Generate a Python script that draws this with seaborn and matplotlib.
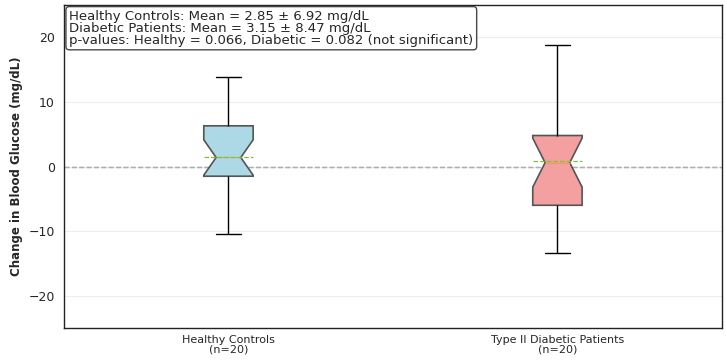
import matplotlib
matplotlib.use("Agg")
import matplotlib.pyplot as plt
import seaborn as sns
import pandas as pd

categories = ["Healthy Controls\n(n=20)", "Type II Diabetic Patients\n(n=20)"]
healthy_change = [-10.5, -8.5, -6.0, -3.5, -1.5, -1.5, -1.0, 0.0, 0.8, 1.4,
                  1.4, 2.0, 3.0, 4.5, 6.3, 6.3, 7.0, 7.4, 8.5, 13.8]
diabetic_change = [-13.4, -9.5, -8.0, -7.0, -6.0, -6.0, -3.5, -1.5, 0.0, 0.6,
                   0.6, 2.2, 3.3, 4.2, 4.8, 4.8, 8.0, 11.0, 14.0, 18.8]
box_colors = ["#ADD8E6", "#F4A0A0"]
yticks = [-20, -10, 0, 10, 20]
stats_text = ("Healthy Controls: Mean = 2.85 ± 6.92 mg/dL\n"
              "Diabetic Patients: Mean = 3.15 ± 8.47 mg/dL\n"
              "p-values: Healthy = 0.066, Diabetic = 0.082 (not significant)")

df = pd.DataFrame({
    "group": [categories[0]] * len(healthy_change) + [categories[1]] * len(diabetic_change),
    "change": healthy_change + diabetic_change,
})

sns.set_style("white")
plt.rcParams["font.family"] = ["DejaVu Sans"]

fig = plt.figure(figsize=(7.27, 3.62), dpi=100)
ax = fig.add_axes([0.088, 0.094, 0.905, 0.892])

sns.boxplot(data=df, x="group", y="change", hue="group", palette=box_colors,
            order=categories, hue_order=categories, legend=False, saturation=1,
            notch=True, width=0.15, showmeans=True, meanline=True, whis=1.5,
            boxprops=dict(edgecolor="#555555", linewidth=1.2),
            whiskerprops=dict(color="black", linewidth=1.0),
            capprops=dict(color="black", linewidth=1.0),
            medianprops=dict(color="#E8A33C", linewidth=0.8),
            meanprops=dict(color="#7FBF3F", linestyle="--", linewidth=0.9),
            flierprops=dict(marker="o", markersize=4),
            ax=ax)

ax.axhline(0, color="#808080", linestyle="--", linewidth=1.0, zorder=0.5)
ax.set_ylim(-25, 25)
ax.set_xlim(-0.5, 1.5)
ax.set_yticks(yticks)
ax.yaxis.grid(True, color="#dddddd", alpha=0.5, linewidth=0.8)
ax.set_axisbelow(True)
ax.set_xlabel("")
ax.set_ylabel("Change in Blood Glucose (mg/dL)", fontsize=8.5, fontweight="bold")
ax.tick_params(axis="both", labelsize=9, length=3, width=0.8, color="black", direction="out")
ax.tick_params(axis="x", labelsize=8, pad=2)
for lbl in ax.get_xticklabels():
    lbl.set_linespacing(0.9)
for s in ax.spines.values():
    s.set_visible(True)
    s.set_color("#222222")
    s.set_linewidth(1.0)

ax.text(0.008, 0.985, stats_text, transform=ax.transAxes, fontsize=9.5,
        va="top", ha="left", linespacing=0.88,
        bbox=dict(boxstyle="round,pad=0.25", facecolor="white", edgecolor="#333333", alpha=0.9))

fig.savefig("out.png", dpi=100)
